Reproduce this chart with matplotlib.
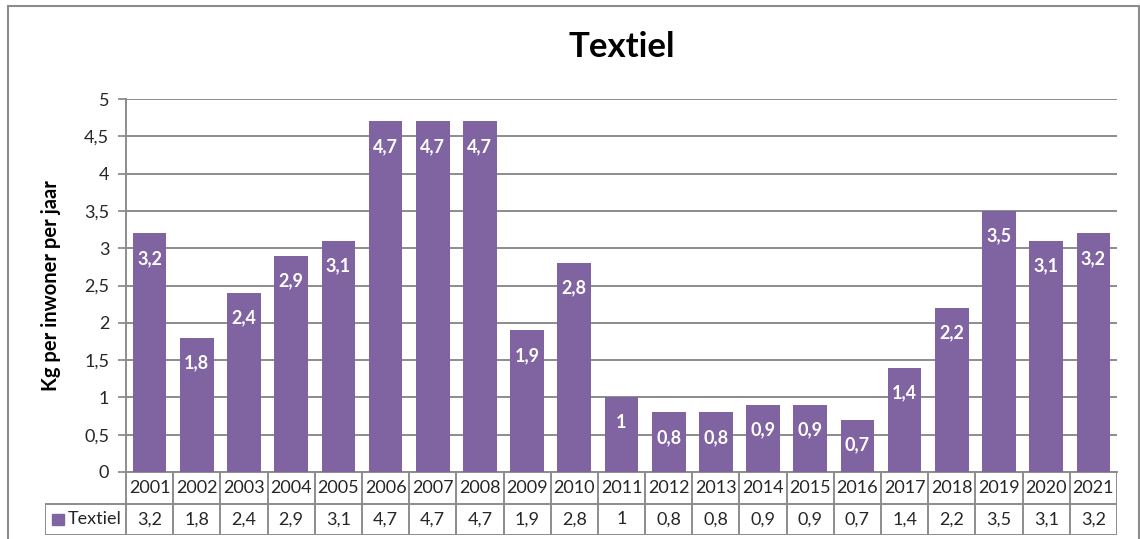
import matplotlib
matplotlib.use('Agg')
import matplotlib.pyplot as plt
from matplotlib.patches import Rectangle

plt.rcParams['font.family'] = ['Lato', 'DejaVu Sans']

# data
YEARS = ['2001', '2002', '2003', '2004', '2005', '2006', '2007', '2008', '2009', '2010', '2011',
         '2012', '2013', '2014', '2015', '2016', '2017', '2018', '2019', '2020', '2021']
TEXTIEL = [3.2, 1.8, 2.4, 2.9, 3.1, 4.7, 4.7, 4.7, 1.9, 2.8, 1.0,
           0.8, 0.8, 0.9, 0.9, 0.7, 1.4, 2.2, 3.5, 3.1, 3.2]
Y_TICKS = [0, 0.5, 1, 1.5, 2, 2.5, 3, 3.5, 4, 4.5, 5]

BAR_COLOR = '#8064A2'
LINE_COLOR = '#8C8C8C'
TEXT_COLOR = '#262626'

W, H = 1140, 539


def fmt(v):
    # Dutch decimal comma, drop trailing .0
    s = f'{v:g}'
    return s.replace('.', ',')


def px_box(x0, y0, x1, y1):
    """pixel box (top-left origin) -> figure fraction [l, b, w, h]"""
    return [x0 / W, 1 - y1 / H, (x1 - x0) / W, (y1 - y0) / H]


fig = plt.figure(figsize=(W / 100, H / 100), dpi=100)

# outer chart border
fig.patches.append(Rectangle((8 / W, -0.02), (1139 - 8) / W, 1.02 - 6 / H,
                             transform=fig.transFigure, fill=False,
                             edgecolor=LINE_COLOR, linewidth=1.5))

PLOT_L, PLOT_R, PLOT_T, PLOT_B = 126, 1117, 99, 472
ax = fig.add_axes(px_box(PLOT_L, PLOT_T, PLOT_R, PLOT_B))

x = list(range(len(YEARS)))
bars = ax.bar(x, TEXTIEL, width=0.714, color=BAR_COLOR, zorder=3)

for xi, v in zip(x, TEXTIEL):
    ax.annotate(fmt(v), (xi, v), xytext=(0, -18), textcoords='offset points',
                ha='center', va='center', color='white', fontweight='bold',
                fontsize=13, zorder=4)

ax.set_xlim(-0.5, len(YEARS) - 0.5)
ax.set_ylim(0, 5)
ax.set_yticks(Y_TICKS)
ax.set_yticklabels([fmt(t) for t in Y_TICKS], fontsize=13, color=TEXT_COLOR)
ax.set_xticks([])
ax.tick_params(axis='y', direction='out', length=6, width=1.3, color=LINE_COLOR, pad=6)
ax.yaxis.grid(True, color=LINE_COLOR, linewidth=1.4, zorder=0)
ax.set_axisbelow(True)
for side in ['top', 'right']:
    ax.spines[side].set_visible(False)
for side in ['left', 'bottom']:
    ax.spines[side].set_color(LINE_COLOR)
    ax.spines[side].set_linewidth(1.4)

ax.set_ylabel('Kg per inwoner per jaar', fontsize=14.5, fontweight='bold',
              color='black')
ax.yaxis.set_label_coords((61 - PLOT_L) / (PLOT_R - PLOT_L), 0.5)

fig.text((PLOT_L + PLOT_R) / 2 / W, 1 - 47 / H, 'Textiel', ha='center', va='center',
         fontsize=25, fontweight='bold', color='black')

# data table under the chart
TAB_L, TAB_B = 45, 535
unit = (PLOT_R - PLOT_L) / len(YEARS)
head_l = -0.5 - (PLOT_L - TAB_L) / unit
tab = fig.add_axes(px_box(TAB_L, PLOT_B, PLOT_R, TAB_B))
tab.set_xlim(head_l, len(YEARS) - 0.5)
tab.set_ylim(0, 2)
tab.axis('off')

tab.hlines([1, 0], head_l, len(YEARS) - 0.5, color=LINE_COLOR, linewidth=1.4)
tab.vlines([k - 0.5 for k in range(len(YEARS) + 1)], 0, 2, color=LINE_COLOR, linewidth=1.4)
tab.vlines([head_l], 0, 1, color=LINE_COLOR, linewidth=1.4)

for xi, yr, v in zip(x, YEARS, TEXTIEL):
    tab.text(xi, 1.5, yr, ha='center', va='center', fontsize=13, color=TEXT_COLOR)
    tab.text(xi, 0.5, fmt(v), ha='center', va='center', fontsize=13, color=TEXT_COLOR)

# legend key in the row header
tab.add_patch(Rectangle((head_l + 0.15, 0.32), 0.26, 0.36, color=BAR_COLOR))
tab.text(head_l + 0.48, 0.5, 'Textiel', ha='left', va='center', fontsize=13, color=TEXT_COLOR)

fig.savefig('out.png', dpi=100)
